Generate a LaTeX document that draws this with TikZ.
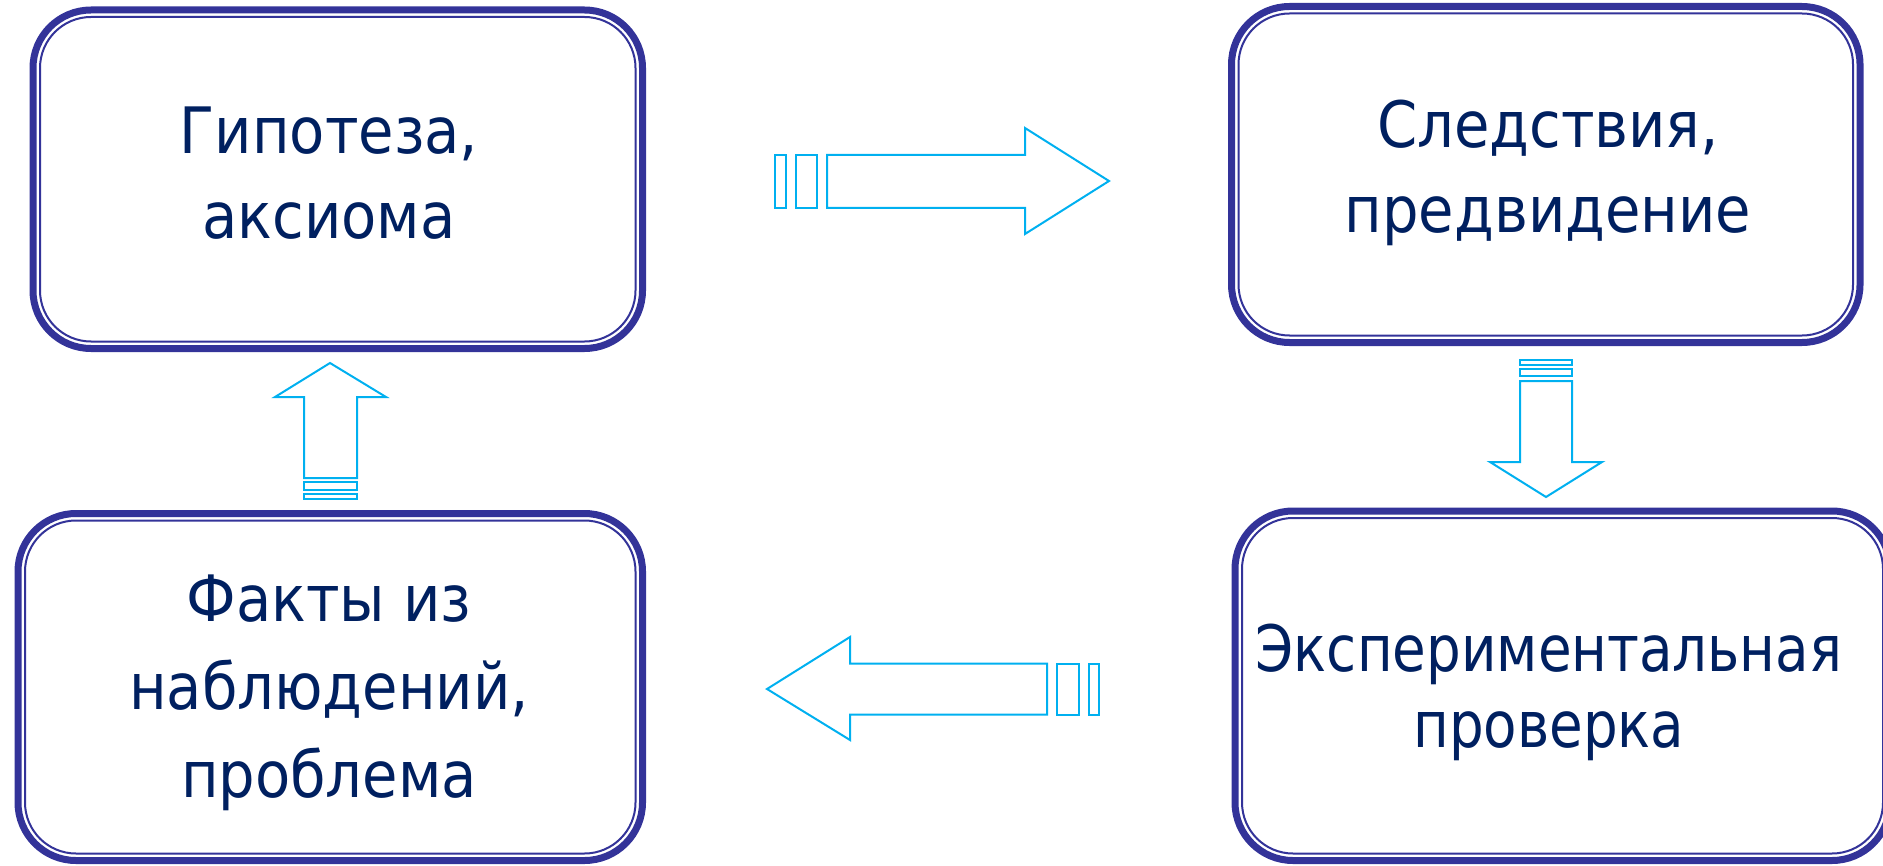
\documentclass[tikz,border=0pt]{standalone}
\usepackage{fontspec}
\setmainfont{DejaVu Sans Condensed}
\newfontfamily\narrowfont[FakeStretch=0.95]{DejaVu Sans Condensed}
\usetikzlibrary{calc}
\definecolor{boxblue}{RGB}{51,51,153}
\definecolor{textnavy}{RGB}{0,32,96}
\definecolor{arrowcyan}{RGB}{0,176,240}
\tikzset{
  boxouter/.style={draw=boxblue, line width=3.5pt, rounded corners=29pt, rectangle, fill=white, inner sep=0pt, outer sep=0pt},
  boxinner/.style={draw=boxblue, line width=1pt, rounded corners=25.5pt},
  boxtext/.style={text=textnavy, align=center, inner sep=0pt, font=\fontsize{32pt}{#1}\selectfont},
  boxtext/.default={42.5pt},
  blockarrow/.style={draw=arrowcyan, line width=1pt, line join=miter, fill=white},
}
\begin{document}
\begin{tikzpicture}[x=0.5pt,y=-0.5pt]
\useasboundingbox (0,0) rectangle (1883,866);
\clip (0,0) rectangle (1883,866);
% boxes
\node[boxouter, minimum width=304.75pt, minimum height=169.25pt] (b1) at (337.75,179.25) {};
\node[boxouter, minimum width=314.25pt, minimum height=168pt] (b2) at (1545.75,174.5) {};
\node[boxouter, minimum width=312.25pt, minimum height=173.5pt] (b3) at (330.25,687) {};
\node[boxouter, minimum width=327.5pt, minimum height=174.75pt] (b4) at (1562.5,685.75) {};
\draw[boxinner] ($(b1.north west)+(7,7)$) rectangle ($(b1.south east)+(-7,-7)$);
\draw[boxinner] ($(b2.north west)+(7,7)$) rectangle ($(b2.south east)+(-7,-7)$);
\draw[boxinner] ($(b3.north west)+(7,7)$) rectangle ($(b3.south east)+(-7,-7)$);
\draw[boxinner] ($(b4.north west)+(7,7)$) rectangle ($(b4.south east)+(-7,-7)$);
% texts
\node[boxtext] (t1) at (329,173.5) {Гипотеза,\\аксиома};
\node[boxtext] (t2) at (1548,173) {Следствия,\\предвидение};
\node[boxtext={44pt}] (t3) at (329,693) {Факты из\\наблюдений,\\проблема};
\node[boxtext={38pt}] (t4) at (1549,692) {\narrowfont Экспериментальная\\\narrowfont проверка};
% arrow b1 -> b2
\draw[blockarrow] (775,155) rectangle (786,208);
\draw[blockarrow] (796,155) rectangle (817,208);
\draw[blockarrow] (827,155) -- (1025,155) -- (1025,128) -- (1109,181) -- (1025,234) -- (1025,208) -- (827,208) -- cycle;
% arrow b2 -> b4
\draw[blockarrow] (1520,360) rectangle (1572,365);
\draw[blockarrow] (1520,369) rectangle (1572,376);
\draw[blockarrow] (1520,381) -- (1572,381) -- (1572,462) -- (1602,462) -- (1546,497) -- (1490,462) -- (1520,462) -- cycle;
% arrow b4 -> b3
\draw[blockarrow] (767,689) -- (850,637) -- (850,663.5) -- (1047,663.5) -- (1047,714.5) -- (850,714.5) -- (850,740) -- cycle;
\draw[blockarrow] (1057,663.5) rectangle (1079,714.5);
\draw[blockarrow] (1089,663.5) rectangle (1099,714.5);
% arrow b3 -> b1
\draw[blockarrow] (330,363) -- (386,397) -- (357,397) -- (357,478) -- (304,478) -- (304,397) -- (275,397) -- cycle;
\draw[blockarrow] (304,482) rectangle (357,490);
\draw[blockarrow] (304,494) rectangle (357,499);
\end{tikzpicture}
\end{document}
